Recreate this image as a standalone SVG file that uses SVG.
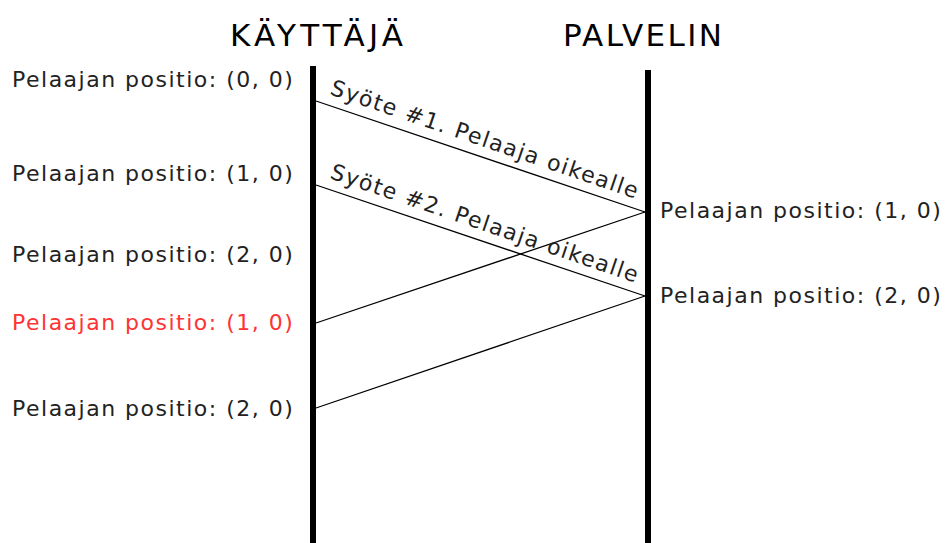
<svg xmlns="http://www.w3.org/2000/svg" width="947" height="543" viewBox="0 0 947 543">
<style>
text{font-family:"DejaVu Sans",sans-serif;fill:#222}
.h{font-size:31px;fill:#000}
.p{font-size:22px;letter-spacing:1.5px}
.red{fill:#f33}
.life{stroke:#000;stroke-width:6}
.msg{stroke:#000;stroke-width:1.3;fill:none}
</style>
<rect width="947" height="543" fill="#fff"/>
<g id="kayttaja">
<text class="h" x="230" y="46" textLength="173" lengthAdjust="spacing">KÄYTTÄJÄ</text>
<line class="life" x1="313" y1="66" x2="313" y2="543"/>
</g>
<g id="palvelin">
<text class="h" x="563" y="46" textLength="159" lengthAdjust="spacing">PALVELIN</text>
<line class="life" x1="648" y1="70" x2="648" y2="543"/>
</g>
<g id="client-states">
<text class="p" x="12" y="87">Pelaajan positio: (0, 0)</text>
<text class="p" x="12" y="181">Pelaajan positio: (1, 0)</text>
<text class="p" x="12" y="262">Pelaajan positio: (2, 0)</text>
<text class="p red" x="12" y="330">Pelaajan positio: (1, 0)</text>
<text class="p" x="12" y="416">Pelaajan positio: (2, 0)</text>
</g>
<g id="server-states">
<text class="p" x="660" y="218">Pelaajan positio: (1, 0)</text>
<text class="p" x="660" y="303">Pelaajan positio: (2, 0)</text>
</g>
<g id="connectors">
<line class="msg" x1="316" y1="101" x2="645" y2="212"/>
<line class="msg" x1="316" y1="185" x2="645" y2="296"/>
<line class="msg" x1="645" y1="212" x2="316" y2="323"/>
<line class="msg" x1="645" y1="296" x2="316" y2="408"/>
<text class="p" x="329" y="94" transform="rotate(18.86 329 94)">Syöte #1. Pelaaja oikealle</text>
<text class="p" x="329" y="178" transform="rotate(18.86 329 178)">Syöte #2. Pelaaja oikealle</text>
</g>
</svg>
